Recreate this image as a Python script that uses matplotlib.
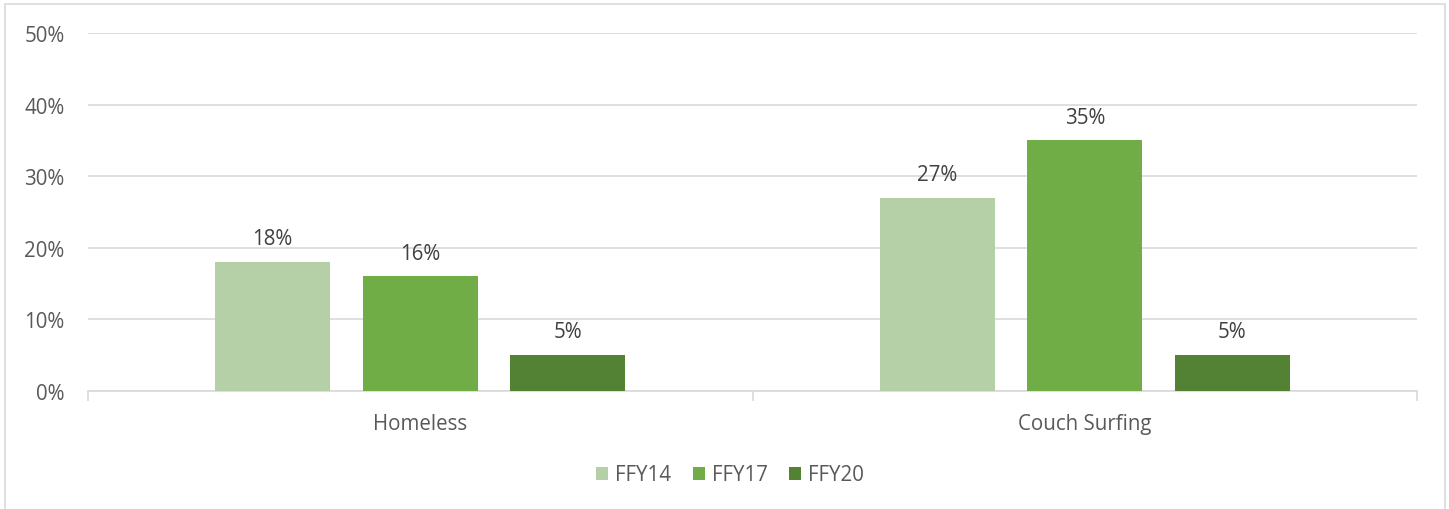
import matplotlib
matplotlib.use("Agg")
import matplotlib.pyplot as plt
import numpy as np
from matplotlib.patches import Rectangle

categories = ["Homeless", "Couch Surfing"]
series_names = ["FFY14", "FFY17", "FFY20"]
ffy14 = [18, 27]
ffy17 = [16, 35]
ffy20 = [5, 5]
values = [ffy14, ffy17, ffy20]
colors = ["#B5D0A7", "#70AD47", "#548235"]
yticks = [0, 10, 20, 30, 40, 50]

plt.rcParams['font.family'] = ['Open Sans', 'DejaVu Sans']
W, H = 1449, 510
fig = plt.figure(figsize=(W/100, H/100), dpi=100)
ax = fig.add_axes([88/W, 1-392/H, (1417-88)/W, (392-34)/H])

# outer chart border
fig.patches.append(Rectangle((5/W, -0.01), (1445-5)/W, (1-5/H)+0.01, transform=fig.transFigure,
                             fill=False, edgecolor="#D9D9D9", linewidth=1.2))

x = np.arange(len(categories))
bw = 0.173
step = 0.222
text_color = "#595959"
fs = 14.8
for i, (name, vals, c) in enumerate(zip(series_names, values, colors)):
    pos = x + (i - 1) * step
    bars = ax.bar(pos, vals, width=bw, color=c, label=name, zorder=3)
    for b, v in zip(bars, vals):
        ax.text(b.get_x() + b.get_width()/2, v + 1.8, f"{v}%", ha="center", va="bottom",
                fontsize=fs, color="#404040")

ax.set_xlim(-0.5, 1.5)
ax.set_ylim(0, 50)
ax.set_yticks(yticks)
ax.set_yticklabels([f"{t}%" for t in yticks], fontsize=fs, color=text_color)
ax.yaxis.grid(True, color="#D9D9D9", linewidth=1.2, zorder=0)
ax.tick_params(axis="y", length=0, pad=17)
ax.set_xticks(x)
ax.set_xticklabels(categories, fontsize=fs, color=text_color)
ax.set_xticks([-0.5, 0.5, 1.5], minor=True)
ax.tick_params(axis="x", which="major", length=0, pad=16)
ax.tick_params(axis="x", which="minor", length=7, color="#D9D9D9", width=1.2)
for s in ["top", "right", "left"]:
    ax.spines[s].set_visible(False)
ax.spines["bottom"].set_color("#D9D9D9")
ax.spines["bottom"].set_linewidth(1.2)

leg = fig.legend(loc="center", bbox_to_anchor=(730/W, 1-476/H), ncol=3, frameon=False,
                 fontsize=fs, handlelength=0.58, handleheight=0.58, columnspacing=1.07,
                 handletextpad=0.34)
for t in leg.get_texts():
    t.set_color(text_color)

fig.savefig("out.png", dpi=100)
